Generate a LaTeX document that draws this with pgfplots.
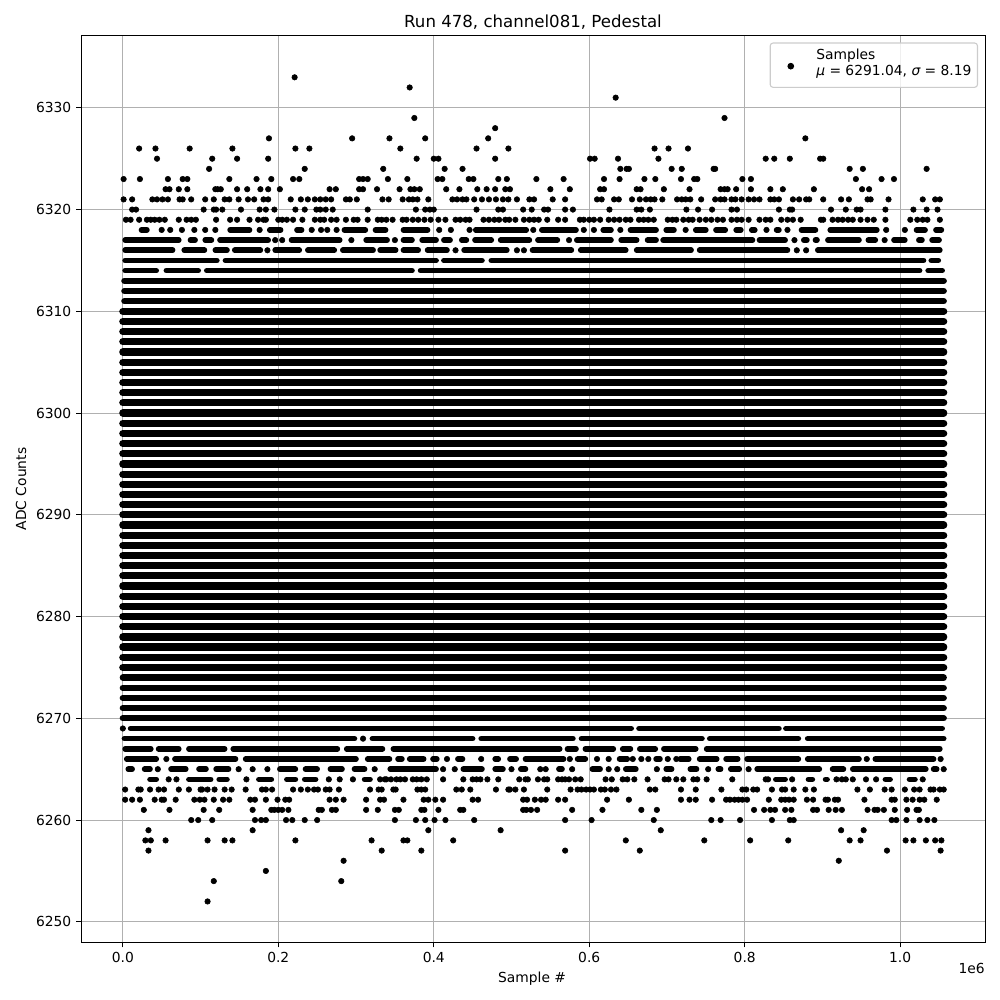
\documentclass[border=0pt]{standalone}
\usepackage{fontspec}
\setmainfont{DejaVu Sans}
\usepackage{pgfplots}
\pgfplotsset{compat=1.18}
\definecolor{gridc}{HTML}{B0B0B0}
\definecolor{legc}{HTML}{CCCCCC}
\pgfplotsset{
  samp/.style={only marks, mark=*, mark size=1.99pt, mark options={fill=black, fill opacity=1, draw=none}},
  fp/.style={samp, forget plot},
  core/.style={forget plot, no marks, black, line width=0.072in, line cap=round, unbounded coords=jump},
  mid/.style={forget plot, no marks, black, line width=0.063in, line cap=round, unbounded coords=jump},
  seg/.style={forget plot, no marks, black, line width=0.056in, line cap=round, unbounded coords=jump},
}
\begin{document}
\begin{tikzpicture}
\useasboundingbox (0,0) rectangle (10in,10in);
\begin{axis}[
  at={(0.81in,0.575in)}, anchor=south west,
  width=9.04in, height=9.07in, scale only axis,
  xmin=-0.0538, xmax=1.1091, ymin=6247.966, ymax=6337.11,
  clip=false,
  tick align=outside, tick pos=left,
  major tick length=3.5pt,
  every tick/.style={black, line width=0.7pt},
  axis line style={line width=0.7pt},
  grid=major, major grid style={gridc, line width=0.8pt},
  scaled ticks=false,
  xtick={0,0.2,0.4,0.6,0.8,1.0},
  xticklabels={0.0,0.2,0.4,0.6,0.8,1.0},
  ytick={6250,6260,6270,6280,6290,6300,6310,6320,6330},
  yticklabels={6250,6260,6270,6280,6290,6300,6310,6320,6330},
  title={Run 478, channel081, Pedestal},
  title style={at={(axis description cs:0.5,1.0143)}, anchor=center, yshift=-6pt, font=\fontsize{12}{14}\selectfont},
  xlabel={Sample \#},
  xlabel style={at={(axis description cs:0.499,-0.040)}, anchor=center},
  ylabel={ADC Counts},
  ylabel style={at={(axis description cs:-0.0664,0.5)}, anchor=center},
  legend style={at={(0.99226,0.99228)}, anchor=north east, fill=white, fill opacity=0.8, text opacity=1, draw=legc, rounded corners=2pt, line width=0.8pt, inner xsep=0.032in, inner ysep=0.083in},
  legend cell align=left,
  legend image code/.code={\path (0in,0in) (0.39in,0in); \draw[#1] plot coordinates {(0.168in,-0.01in)};},
]
% rows of isolated samples
\addplot[samp] coordinates {(0.221,6333)(0.369,6332)(0.634,6331)(0.375,6329)(0.774,6329)(0.479,6328)};
\addlegendentry{\raisebox{0.065in}[\height][\depth]{\begin{tabular}{@{}l@{}}Samples\\{\itshape μ} = 6291.04, {\itshape σ} = 8.19\end{tabular}}}
\addplot[fp] coordinates {(0.188,6327)(0.295,6327)(0.343,6327)(0.389,6327)(0.470,6327)(0.878,6327)};
\addplot[fp] coordinates {(0.021,6326)(0.042,6326)(0.086,6326)(0.141,6326)(0.222,6326)(0.240,6326)(0.357,6326)(0.455,6326)(0.496,6326)(0.684,6326)(0.702,6326)(0.727,6326)};
\addplot[fp] coordinates {(0.044,6325)(0.115,6325)(0.147,6325)(0.187,6325)(0.378,6325)(0.400,6325)(0.406,6325)(0.479,6325)(0.601,6325)(0.607,6325)(0.637,6325)(0.689,6325)(0.827,6325)(0.838,6325)(0.858,6325)(0.897,6325)(0.901,6325)};
\addplot[fp] coordinates {(0.111,6324)(0.234,6324)(0.335,6324)(0.414,6324)(0.437,6324)(0.640,6324)(0.648,6324)(0.651,6324)(0.706,6324)(0.719,6324)(0.760,6324)(0.762,6324)(0.935,6324)(0.952,6324)(1.034,6324)};
\addplot[fp] coordinates {(0.001,6323)(0.022,6323)(0.058,6323)(0.077,6323)(0.083,6323)(0.137,6323)(0.172,6323)(0.191,6323)(0.219,6323)(0.227,6323)(0.304,6323)(0.309,6323)(0.315,6323)(0.341,6323)(0.366,6323)(0.405,6323)(0.411,6323)(0.445,6323)(0.451,6323)(0.483,6323)(0.494,6323)(0.532,6323)(0.567,6323)(0.619,6323)(0.639,6323)(0.671,6323)(0.685,6323)(0.718,6323)(0.735,6323)(0.739,6323)(0.797,6323)(0.808,6323)(0.943,6323)(0.976,6323)(0.992,6323)};
\addplot[fp] coordinates {(0.055,6322)(0.060,6322)(0.072,6322)(0.083,6322)(0.119,6322)(0.122,6322)(0.126,6322)(0.147,6322)(0.160,6322)(0.177,6322)(0.187,6322)(0.202,6322)(0.266,6322)(0.274,6322)(0.304,6322)(0.309,6322)(0.327,6322)(0.356,6322)(0.370,6322)(0.375,6322)(0.382,6322)(0.416,6322)(0.433,6322)(0.456,6322)(0.468,6322)(0.479,6322)(0.492,6322)(0.498,6322)(0.550,6322)(0.575,6322)(0.614,6322)(0.619,6322)(0.661,6322)(0.666,6322)(0.696,6322)(0.729,6322)(0.769,6322)(0.774,6322)(0.778,6322)(0.789,6322)(0.808,6322)(0.833,6322)(0.849,6322)(0.889,6322)(0.951,6322)(0.960,6322)};
\addplot[fp] coordinates {(0.001,6321)(0.012,6321)(0.038,6321)(0.044,6321)(0.051,6321)(0.058,6321)(0.073,6321)(0.077,6321)(0.088,6321)(0.106,6321)(0.117,6321)(0.131,6321)(0.137,6321)(0.149,6321)(0.161,6321)(0.169,6321)(0.181,6321)(0.187,6321)(0.216,6321)(0.229,6321)(0.238,6321)(0.247,6321)(0.254,6321)(0.261,6321)(0.268,6321)(0.287,6321)(0.292,6321)(0.301,6321)(0.334,6321)(0.342,6321)(0.360,6321)(0.368,6321)(0.373,6321)(0.379,6321)(0.393,6321)(0.424,6321)(0.430,6321)(0.437,6321)(0.442,6321)(0.452,6321)(0.462,6321)(0.471,6321)(0.480,6321)(0.489,6321)(0.496,6321)(0.507,6321)(0.523,6321)(0.529,6321)(0.553,6321)(0.569,6321)(0.610,6321)(0.616,6321)(0.632,6321)(0.638,6321)(0.655,6321)(0.665,6321)(0.673,6321)(0.679,6321)(0.684,6321)(0.694,6321)(0.713,6321)(0.719,6321)(0.724,6321)(0.730,6321)(0.744,6321)(0.762,6321)(0.769,6321)(0.774,6321)(0.783,6321)(0.788,6321)(0.796,6321)(0.805,6321)(0.812,6321)(0.819,6321)(0.833,6321)(0.838,6321)(0.844,6321)(0.862,6321)(0.870,6321)(0.879,6321)(0.883,6321)(0.901,6321)(0.924,6321)(0.934,6321)(0.958,6321)(0.962,6321)(0.985,6321)(1.029,6321)(1.045,6321)(1.051,6321)};
\addplot[fp] coordinates {(0.012,6320)(0.017,6320)(0.104,6320)(0.117,6320)(0.120,6320)(0.128,6320)(0.152,6320)(0.176,6320)(0.184,6320)(0.195,6320)(0.222,6320)(0.234,6320)(0.249,6320)(0.254,6320)(0.261,6320)(0.270,6320)(0.315,6320)(0.377,6320)(0.389,6320)(0.395,6320)(0.400,6320)(0.455,6320)(0.483,6320)(0.489,6320)(0.515,6320)(0.526,6320)(0.542,6320)(0.547,6320)(0.569,6320)(0.579,6320)(0.626,6320)(0.661,6320)(0.667,6320)(0.678,6320)(0.725,6320)(0.740,6320)(0.758,6320)(0.783,6320)(0.790,6320)(0.844,6320)(0.858,6320)(0.861,6320)(0.911,6320)(0.930,6320)(0.944,6320)(0.949,6320)(0.981,6320)(1.017,6320)(1.034,6320)(1.048,6320)};
\addplot[fp] coordinates {(0.004,6319)(0.010,6319)(0.021,6319)(0.031,6319)(0.036,6319)(0.041,6319)(0.047,6319)(0.054,6319)(0.072,6319)(0.082,6319)(0.088,6319)(0.094,6319)(0.120,6319)(0.138,6319)(0.147,6319)(0.163,6319)(0.174,6319)(0.181,6319)(0.184,6319)(0.200,6319)(0.205,6319)(0.211,6319)(0.219,6319)(0.231,6319)(0.247,6319)(0.254,6319)(0.259,6319)(0.268,6319)(0.275,6319)(0.287,6319)(0.297,6319)(0.302,6319)(0.315,6319)(0.328,6319)(0.333,6319)(0.339,6319)(0.347,6319)(0.360,6319)(0.365,6319)(0.373,6319)(0.380,6319)(0.388,6319)(0.396,6319)(0.406,6319)(0.415,6319)(0.428,6319)(0.434,6319)(0.441,6319)(0.446,6319)(0.464,6319)(0.471,6319)(0.478,6319)(0.484,6319)(0.492,6319)(0.497,6319)(0.505,6319)(0.516,6319)(0.523,6319)(0.529,6319)(0.535,6319)(0.546,6319)(0.560,6319)(0.569,6319)(0.588,6319)(0.593,6319)(0.600,6319)(0.606,6319)(0.614,6319)(0.625,6319)(0.632,6319)(0.639,6319)(0.647,6319)(0.653,6319)(0.664,6319)(0.670,6319)(0.676,6319)(0.683,6319)(0.701,6319)(0.707,6319)(0.712,6319)(0.721,6319)(0.728,6319)(0.733,6319)(0.742,6319)(0.750,6319)(0.757,6319)(0.765,6319)(0.772,6319)(0.783,6319)(0.790,6319)(0.796,6319)(0.805,6319)(0.819,6319)(0.827,6319)(0.833,6319)(0.847,6319)(0.855,6319)(0.862,6319)(0.872,6319)(0.898,6319)(0.901,6319)(0.913,6319)(0.920,6319)(0.926,6319)(0.933,6319)(0.939,6319)(0.949,6319)(0.958,6319)(0.966,6319)(0.981,6319)(1.013,6319)(1.022,6319)(1.029,6319)(1.035,6319)(1.051,6319)};
\addplot[fp] coordinates {(0.050,6318)(0.061,6318)(0.076,6318)(0.092,6318)(0.106,6318)(0.119,6318)(0.176,6318)(0.243,6318)(0.255,6318)(0.263,6318)(0.275,6318)(0.407,6318)(0.422,6318)(0.446,6318)(0.528,6318)(0.593,6318)(0.606,6318)(0.640,6318)(0.724,6318)(0.828,6318)(0.855,6318)(0.982,6318)(1.006,6318)};
\addplot[fp] coordinates {(0.196,6317)(0.205,6317)(0.294,6317)(0.350,6317)(0.574,6317)(0.864,6317)(0.980,6317)};
\addplot[fp] coordinates {(0.186,6316)(0.428,6316)(0.507,6316)(0.516,6316)(0.867,6316)(0.879,6316)};
% runs of samples that overlap
\addplot[seg] coordinates {(0.024,6318)(0.031,6318)(nan,nan)(0.138,6318)(0.163,6318)(nan,nan)(0.189,6318)(0.203,6318)(nan,nan)(0.224,6318)(0.230,6318)(nan,nan)(0.285,6318)(0.312,6318)(nan,nan)(0.325,6318)(0.338,6318)(nan,nan)(0.361,6318)(0.392,6318)(nan,nan)(0.454,6318)(0.519,6318)(nan,nan)(0.539,6318)(0.583,6318)(nan,nan)(0.618,6318)(0.628,6318)(nan,nan)(0.653,6318)(0.686,6318)(nan,nan)(0.699,6318)(0.709,6318)(nan,nan)(0.737,6318)(0.750,6318)(nan,nan)(0.763,6318)(0.775,6318)(nan,nan)(0.789,6318)(0.795,6318)(nan,nan)(0.809,6318)(0.813,6318)(nan,nan)(0.841,6318)(0.844,6318)(nan,nan)(0.873,6318)(0.891,6318)(nan,nan)(0.910,6318)(0.970,6318)(nan,nan)(1.021,6318)(1.032,6318)(nan,nan)(1.046,6318)(1.053,6318)};
\addplot[seg] coordinates {(0.003,6317)(0.072,6317)(nan,nan)(0.087,6317)(0.093,6317)(nan,nan)(0.106,6317)(0.114,6317)(nan,nan)(0.125,6317)(0.187,6317)(nan,nan)(0.217,6317)(0.279,6317)(nan,nan)(0.313,6317)(0.340,6317)(nan,nan)(0.361,6317)(0.372,6317)(nan,nan)(0.385,6317)(0.403,6317)(nan,nan)(0.413,6317)(0.421,6317)(nan,nan)(0.436,6317)(0.442,6317)(nan,nan)(0.453,6317)(0.474,6317)(nan,nan)(0.486,6317)(0.523,6317)(nan,nan)(0.534,6317)(0.559,6317)(nan,nan)(0.584,6317)(0.628,6317)(nan,nan)(0.641,6317)(0.661,6317)(nan,nan)(0.675,6317)(0.686,6317)(nan,nan)(0.695,6317)(0.810,6317)(nan,nan)(0.819,6317)(0.852,6317)(nan,nan)(0.876,6317)(0.880,6317)(nan,nan)(0.891,6317)(0.893,6317)(nan,nan)(0.907,6317)(0.947,6317)(nan,nan)(0.959,6317)(0.968,6317)(nan,nan)(0.992,6317)(1.006,6317)(nan,nan)(1.024,6317)(1.028,6317)(nan,nan)(1.041,6317)(1.050,6317)};
\addplot[seg] coordinates {(0.003,6316)(0.064,6316)(nan,nan)(0.079,6316)(0.105,6316)(nan,nan)(0.119,6316)(0.134,6316)(nan,nan)(0.144,6316)(0.177,6316)(nan,nan)(0.196,6316)(0.227,6316)(nan,nan)(0.238,6316)(0.272,6316)(nan,nan)(0.283,6316)(0.322,6316)(nan,nan)(0.331,6316)(0.351,6316)(nan,nan)(0.361,6316)(0.380,6316)(nan,nan)(0.392,6316)(0.417,6316)(nan,nan)(0.439,6316)(0.494,6316)(nan,nan)(0.527,6316)(0.577,6316)(nan,nan)(0.589,6316)(0.647,6316)(nan,nan)(0.661,6316)(0.731,6316)(nan,nan)(0.742,6316)(0.855,6316)(nan,nan)(0.894,6316)(1.051,6316)};
\addplot[seg] coordinates {(0.003,6315)(0.121,6315)(nan,nan)(0.132,6315)(0.403,6315)(nan,nan)(0.413,6315)(0.462,6315)(nan,nan)(0.474,6315)(1.030,6315)(nan,nan)(1.040,6315)(1.049,6315)};
\addplot[seg] coordinates {(0.003,6314)(0.043,6314)(nan,nan)(0.056,6314)(0.097,6314)(nan,nan)(0.108,6314)(0.372,6314)(nan,nan)(0.383,6314)(1.025,6314)(nan,nan)(1.036,6314)(1.054,6314)};
\addplot[mid] coordinates {(0.002,6313)(1.056,6313)};
\addplot[mid] coordinates {(0.002,6312)(1.056,6312)};
\addplot[mid] coordinates {(0.002,6311)(1.056,6311)};
\addplot[core] coordinates {(0,6310)(1.056,6310)};
\addplot[core] coordinates {(0,6309)(1.056,6309)};
\addplot[core] coordinates {(0,6308)(1.056,6308)};
\addplot[core] coordinates {(0,6307)(1.056,6307)};
\addplot[core] coordinates {(0,6306)(1.056,6306)};
\addplot[core] coordinates {(0,6305)(1.056,6305)};
\addplot[core] coordinates {(0,6304)(1.056,6304)};
\addplot[core] coordinates {(0,6303)(1.056,6303)};
\addplot[core] coordinates {(0,6302)(1.056,6302)};
\addplot[core] coordinates {(0,6301)(1.056,6301)};
\addplot[core] coordinates {(0,6300)(1.056,6300)};
\addplot[core] coordinates {(0,6299)(1.056,6299)};
\addplot[core] coordinates {(0,6298)(1.056,6298)};
\addplot[core] coordinates {(0,6297)(1.056,6297)};
\addplot[core] coordinates {(0,6296)(1.056,6296)};
\addplot[core] coordinates {(0,6295)(1.056,6295)};
\addplot[core] coordinates {(0,6294)(1.056,6294)};
\addplot[core] coordinates {(0,6293)(1.056,6293)};
\addplot[core] coordinates {(0,6292)(1.056,6292)};
\addplot[core] coordinates {(0,6291)(1.056,6291)};
\addplot[core] coordinates {(0,6290)(1.056,6290)};
\addplot[core] coordinates {(0,6289)(1.056,6289)};
\addplot[core] coordinates {(0,6288)(1.056,6288)};
\addplot[core] coordinates {(0,6287)(1.056,6287)};
\addplot[core] coordinates {(0,6286)(1.056,6286)};
\addplot[core] coordinates {(0,6285)(1.056,6285)};
\addplot[core] coordinates {(0,6284)(1.056,6284)};
\addplot[core] coordinates {(0,6283)(1.056,6283)};
\addplot[core] coordinates {(0,6282)(1.056,6282)};
\addplot[core] coordinates {(0,6281)(1.056,6281)};
\addplot[core] coordinates {(0,6280)(1.056,6280)};
\addplot[core] coordinates {(0,6279)(1.056,6279)};
\addplot[core] coordinates {(0,6278)(1.056,6278)};
\addplot[core] coordinates {(0,6277)(1.056,6277)};
\addplot[core] coordinates {(0,6276)(1.056,6276)};
\addplot[core] coordinates {(0,6275)(1.056,6275)};
\addplot[mid] coordinates {(0,6274)(1.056,6274)};
\addplot[mid] coordinates {(0,6273)(1.056,6273)};
\addplot[mid] coordinates {(0,6272)(1.056,6272)};
\addplot[mid] coordinates {(0,6271)(1.056,6271)};
\addplot[mid] coordinates {(0,6270)(1.056,6270)};
\addplot[seg] coordinates {(0.010,6269)(0.654,6269)(nan,nan)(0.664,6269)(0.844,6269)(nan,nan)(0.853,6269)(1.054,6269)};
\addplot[seg] coordinates {(0.002,6268)(0.298,6268)(nan,nan)(0.321,6268)(0.450,6268)(nan,nan)(0.461,6268)(0.579,6268)(nan,nan)(0.590,6268)(0.745,6268)(nan,nan)(0.755,6268)(0.869,6268)(nan,nan)(0.881,6268)(1.056,6268)};
\addplot[seg] coordinates {(0.003,6267)(0.036,6267)(nan,nan)(0.046,6267)(0.072,6267)(nan,nan)(0.085,6267)(0.131,6267)(nan,nan)(0.142,6267)(0.276,6267)(nan,nan)(0.288,6267)(0.334,6267)(nan,nan)(0.348,6267)(0.562,6267)(nan,nan)(0.572,6267)(0.583,6267)(nan,nan)(0.595,6267)(0.631,6267)(nan,nan)(0.643,6267)(0.653,6267)(nan,nan)(0.665,6267)(0.685,6267)(nan,nan)(0.696,6267)(0.737,6267)(nan,nan)(0.751,6267)(1.051,6267)};
\addplot[seg] coordinates {(0.005,6266)(0.043,6266)(nan,nan)(0.067,6266)(0.145,6266)(nan,nan)(0.158,6266)(0.300,6266)(nan,nan)(0.315,6266)(0.343,6266)(nan,nan)(0.354,6266)(0.359,6266)(nan,nan)(0.369,6266)(0.387,6266)(nan,nan)(0.399,6266)(0.404,6266)(nan,nan)(0.431,6266)(0.437,6266)(nan,nan)(0.479,6266)(0.483,6266)(nan,nan)(0.498,6266)(0.506,6266)(nan,nan)(0.518,6266)(0.567,6266)(nan,nan)(0.585,6266)(0.595,6266)(nan,nan)(0.639,6266)(0.649,6266)(nan,nan)(0.686,6266)(0.691,6266)(nan,nan)(0.717,6266)(0.728,6266)(nan,nan)(0.742,6266)(0.764,6266)(nan,nan)(0.776,6266)(0.791,6266)(nan,nan)(0.803,6266)(0.869,6266)(nan,nan)(0.881,6266)(0.947,6266)(nan,nan)(0.968,6266)(1.043,6266)};
\addplot[seg] coordinates {(0.007,6265)(0.012,6265)(nan,nan)(0.028,6265)(0.035,6265)(nan,nan)(0.062,6265)(0.081,6265)(nan,nan)(0.098,6265)(0.107,6265)(nan,nan)(0.120,6265)(0.136,6265)(nan,nan)(0.202,6265)(0.222,6265)(nan,nan)(0.235,6265)(0.250,6265)(nan,nan)(0.267,6265)(0.282,6265)(nan,nan)(0.298,6265)(0.311,6265)(nan,nan)(0.344,6265)(0.403,6265)(nan,nan)(0.438,6265)(0.462,6265)(nan,nan)(0.479,6265)(0.489,6265)(nan,nan)(0.512,6265)(0.518,6265)(nan,nan)(0.561,6265)(0.565,6265)(nan,nan)(0.604,6265)(0.614,6265)(nan,nan)(0.647,6265)(0.660,6265)(nan,nan)(0.699,6265)(0.706,6265)(nan,nan)(0.730,6265)(0.738,6265)(nan,nan)(0.766,6265)(0.769,6265)(nan,nan)(0.782,6265)(0.793,6265)(nan,nan)(0.816,6265)(0.896,6265)(nan,nan)(0.913,6265)(0.927,6265)(nan,nan)(0.939,6265)(1.033,6265)(nan,nan)(1.043,6265)(1.047,6265)};
\addplot[seg] coordinates {(0.035,6264)(0.043,6264)(nan,nan)(0.085,6264)(0.113,6264)(nan,nan)(0.124,6264)(0.134,6264)(nan,nan)(0.175,6264)(0.191,6264)(nan,nan)(0.211,6264)(0.222,6264)(nan,nan)(0.234,6264)(0.248,6264)(nan,nan)(0.311,6264)(0.318,6264)(nan,nan)(0.840,6264)(0.852,6264)(nan,nan)(0.882,6264)(0.887,6264)(nan,nan)(0.904,6264)(0.906,6264)(nan,nan)(0.981,6264)(0.987,6264)(nan,nan)(1.012,6264)(1.019,6264)};
\addplot[fp] coordinates {(0.000,6269)(0.309,6268)(0.056,6266)(0.417,6266)(0.461,6266)(0.575,6266)(0.610,6266)(0.625,6266)(0.656,6266)(0.667,6266)(0.676,6266)(0.701,6266)(0.712,6266)(0.957,6266)(1.052,6266)};
\addplot[fp] coordinates {(0.045,6265)(0.149,6265)(0.167,6265)(0.186,6265)(0.324,6265)(0.412,6265)(0.427,6265)(0.500,6265)(0.537,6265)(0.544,6265)(0.578,6265)(0.625,6265)(0.636,6265)(0.687,6265)(0.753,6265)(0.805,6265)(1.056,6265)};
\addplot[fp] coordinates {(0.059,6264)(0.069,6264)(0.159,6264)(0.265,6264)(0.279,6264)(0.296,6264)(0.331,6264)(0.337,6264)(0.339,6264)(0.345,6264)(0.352,6264)(0.357,6264)(0.363,6264)(0.373,6264)(0.378,6264)(0.384,6264)(0.391,6264)(0.412,6264)(0.438,6264)(0.450,6264)(0.455,6264)(0.460,6264)(0.469,6264)(0.483,6264)(0.510,6264)(0.518,6264)(0.521,6264)(0.534,6264)(0.542,6264)(0.546,6264)(0.560,6264)(0.565,6264)(0.569,6264)(0.574,6264)(0.582,6264)(0.589,6264)(0.621,6264)(0.629,6264)(0.643,6264)(0.649,6264)(0.658,6264)(0.675,6264)(0.697,6264)(0.702,6264)(0.712,6264)(0.721,6264)(0.734,6264)(0.739,6264)(0.751,6264)(0.784,6264)(0.827,6264)(0.830,6264)(0.861,6264)(0.918,6264)(0.925,6264)(0.930,6264)(0.939,6264)(0.956,6264)(0.969,6264)(1.029,6264)};
\addplot[fp] coordinates {(0.003,6263)(0.020,6263)(0.023,6263)(0.035,6263)(0.046,6263)(0.053,6263)(0.072,6263)(0.085,6263)(0.100,6263)(0.102,6263)(0.109,6263)(0.118,6263)(0.131,6263)(0.140,6263)(0.158,6263)(0.179,6263)(0.184,6263)(0.192,6263)(0.219,6263)(0.229,6263)(0.238,6263)(0.246,6263)(0.251,6263)(0.261,6263)(0.266,6263)(0.278,6263)(0.318,6263)(0.329,6263)(0.333,6263)(0.348,6263)(0.351,6263)(0.379,6263)(0.384,6263)(0.389,6263)(0.429,6263)(0.436,6263)(0.447,6263)(0.480,6263)(0.496,6263)(0.498,6263)(0.505,6263)(0.516,6263)(0.546,6263)(0.576,6263)(0.585,6263)(0.590,6263)(0.596,6263)(0.601,6263)(0.606,6263)(0.615,6263)(0.620,6263)(0.628,6263)(0.635,6263)(0.678,6263)(0.685,6263)(0.718,6263)(0.737,6263)(0.770,6263)(0.797,6263)(0.802,6263)(0.811,6263)(0.816,6263)(0.835,6263)(0.848,6263)(0.852,6263)(0.863,6263)(0.878,6263)(0.889,6263)(0.945,6263)(0.961,6263)(0.980,6263)(0.989,6263)(1.006,6263)(1.018,6263)(1.025,6263)(1.039,6263)(1.043,6263)(1.051,6263)(1.056,6263)};
\addplot[fp] coordinates {(0.003,6262)(0.012,6262)(0.022,6262)(0.041,6262)(0.050,6262)(0.053,6262)(0.068,6262)(0.092,6262)(0.099,6262)(0.105,6262)(0.117,6262)(0.129,6262)(0.137,6262)(0.164,6262)(0.170,6262)(0.184,6262)(0.199,6262)(0.209,6262)(0.214,6262)(0.266,6262)(0.274,6262)(0.284,6262)(0.313,6262)(0.331,6262)(0.336,6262)(0.361,6262)(0.387,6262)(0.393,6262)(0.402,6262)(0.412,6262)(0.450,6262)(0.457,6262)(0.515,6262)(0.520,6262)(0.530,6262)(0.538,6262)(0.544,6262)(0.560,6262)(0.569,6262)(0.623,6262)(0.651,6262)(0.718,6262)(0.729,6262)(0.737,6262)(0.758,6262)(0.776,6262)(0.781,6262)(0.787,6262)(0.792,6262)(0.797,6262)(0.803,6262)(0.831,6262)(0.847,6262)(0.852,6262)(0.857,6262)(0.863,6262)(0.880,6262)(0.888,6262)(0.904,6262)(0.907,6262)(0.916,6262)(0.920,6262)(0.954,6262)(0.989,6262)(0.993,6262)(1.008,6262)(1.016,6262)(1.025,6262)(1.031,6262)(1.047,6262)};
\addplot[fp] coordinates {(0.027,6261)(0.060,6261)(0.104,6261)(0.124,6261)(0.167,6261)(0.191,6261)(0.195,6261)(0.200,6261)(0.205,6261)(0.213,6261)(0.252,6261)(0.256,6261)(0.269,6261)(0.274,6261)(0.313,6261)(0.328,6261)(0.350,6261)(0.355,6261)(0.384,6261)(0.388,6261)(0.406,6261)(0.434,6261)(0.438,6261)(0.515,6261)(0.519,6261)(0.525,6261)(0.533,6261)(0.578,6261)(0.617,6261)(0.667,6261)(0.687,6261)(0.812,6261)(0.825,6261)(0.833,6261)(0.839,6261)(0.852,6261)(0.860,6261)(0.888,6261)(0.893,6261)(0.908,6261)(0.917,6261)(0.925,6261)(0.958,6261)(0.967,6261)(0.971,6261)(0.979,6261)(0.993,6261)(1.009,6261)(1.021,6261)(1.024,6261)};
\addplot[fp] coordinates {(0.088,6260)(0.097,6260)(0.115,6260)(0.170,6260)(0.178,6260)(0.184,6260)(0.210,6260)(0.218,6260)(0.234,6260)(0.250,6260)(0.350,6260)(0.377,6260)(0.389,6260)(0.401,6260)(0.415,6260)(0.452,6260)(0.569,6260)(0.603,6260)(0.683,6260)(0.757,6260)(0.769,6260)(0.794,6260)(0.835,6260)(0.858,6260)(0.863,6260)(0.989,6260)(0.995,6260)(1.008,6260)(1.025,6260)(1.035,6260)(1.044,6260)};
\addplot[fp] coordinates {(0.033,6259)(0.167,6259)(0.393,6259)(0.486,6259)(0.692,6259)(0.924,6259)(0.953,6259)};
\addplot[fp] coordinates {(0.029,6258)(0.036,6258)(0.055,6258)(0.109,6258)(0.131,6258)(0.141,6258)(0.222,6258)(0.320,6258)(0.361,6258)(0.366,6258)(0.425,6258)(0.647,6258)(0.748,6258)(0.807,6258)(0.856,6258)(0.935,6258)(0.949,6258)(1.007,6258)(1.017,6258)(1.033,6258)(1.045,6258)(1.053,6258)};
\addplot[fp] coordinates {(0.033,6257)(0.333,6257)(0.384,6257)(0.569,6257)(0.665,6257)(0.983,6257)(1.052,6257)};
\addplot[fp] coordinates {(0.284,6256)(0.921,6256)};
\addplot[fp] coordinates {(0.184,6255)};
\addplot[fp] coordinates {(0.117,6254)(0.281,6254)};
\addplot[fp] coordinates {(0.109,6252)};
\node[anchor=east, inner sep=0pt] at (rel axis cs:1,-0.0287) {1e6};
\end{axis}
\end{tikzpicture}
\end{document}
